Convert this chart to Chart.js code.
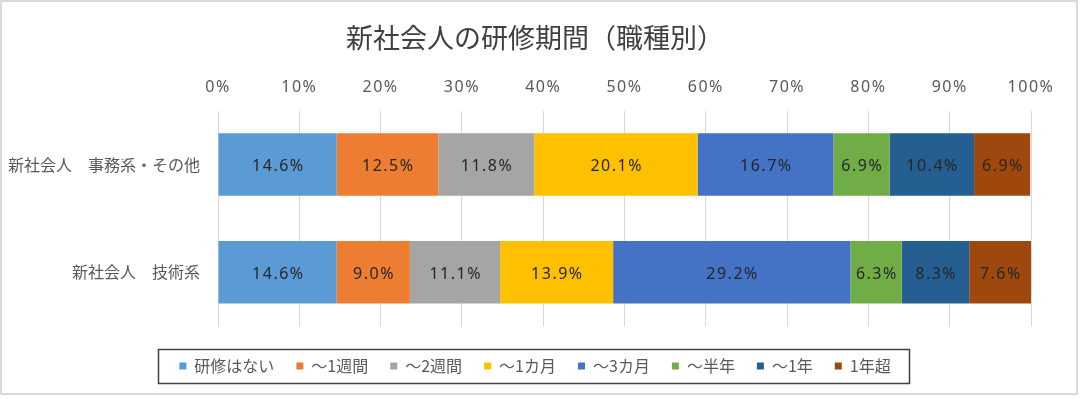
<!DOCTYPE html>
<html><head><meta charset="utf-8">
<script src="https://cdn.jsdelivr.net/npm/chart.js@4.4.1/dist/chart.umd.min.js"></script>
<style>html,body{margin:0;padding:0;background:#fff;overflow:hidden;}</style>
</head><body>
<canvas id="c" width="1081" height="399"></canvas>
<script>
// ---- data ----
const titleText = '新社会人の研修期間（職種別）';
const categories = ['新社会人　事務系・その他', '新社会人　技術系'];
const seriesNames = ['研修はない', '～1週間', '～2週間', '～1カ月', '～3カ月', '～半年', '～1年', '1年超'];
const sNone   = [14.6, 14.6];
const s1Week  = [12.5, 9.0];
const s2Week  = [11.8, 11.1];
const s1Month = [20.1, 13.9];
const s3Month = [16.7, 29.2];
const sHalf   = [6.9, 6.3];
const s1Year  = [10.4, 8.3];
const sOver1  = [6.9, 7.6];
const tickLabels = ['0%', '10%', '20%', '30%', '40%', '50%', '60%', '70%', '80%', '90%', '100%'];
const seriesColors = ['#5B9BD5', '#ED7D31', '#A5A5A5', '#FFC000', '#4472C4', '#70AD47', '#255E91', '#9E480E'];
const seriesValues = [sNone, s1Week, s2Week, s1Month, s3Month, sHalf, s1Year, sOver1];

const datasets = seriesNames.map((name, i) => ({
  label: name,
  data: seriesValues[i],
  backgroundColor: seriesColors[i],
  borderWidth: 0,
  barPercentage: 0.58,
  categoryPercentage: 1.0,
  xAxisID: 'x',
  yAxisID: 'y'
}));

const helperPlugin = {
  id: 'helper',
  beforeDraw(chart) {
    const ctx = chart.ctx;
    ctx.save();
    ctx.fillStyle = '#ffffff';
    ctx.fillRect(0, 0, chart.width, chart.height);
    ctx.restore();
  },
  afterDatasetsDraw(chart) {
    const ctx = chart.ctx;
    ctx.save();
    ctx.font = '16px "Noto Sans"';
    ctx.fillStyle = '#262626';
    ctx.textAlign = 'center';
    ctx.textBaseline = 'middle';
    try { ctx.letterSpacing = '1.5px'; } catch (e) {}
    chart.data.datasets.forEach((ds, i) => {
      const meta = chart.getDatasetMeta(i);
      meta.data.forEach((bar, j) => {
        const v = ds.data[j];
        const p = bar.getProps(['x', 'y', 'base'], true);
        ctx.fillText(v.toFixed(1) + '%', (p.x + p.base) / 2 + 0.75, p.y + 2);
      });
    });
    ctx.restore();
    try { ctx.letterSpacing = '1.5px'; } catch (e) {}
  },
  afterDraw(chart) {
    const ctx = chart.ctx;
    try { ctx.letterSpacing = '0px'; } catch (e) {}
    const hb = chart.legend && chart.legend.legendHitBoxes;
    ctx.save();
    if (hb && hb.length) {
      let minL = Infinity, maxR = -Infinity, cy = hb[0].top + hb[0].height / 2;
      hb.forEach(h => { minL = Math.min(minL, h.left); maxR = Math.max(maxR, h.left + h.width); });
      ctx.strokeStyle = '#404040';
      ctx.lineWidth = 1.5;
      ctx.strokeRect(Math.round(minL - 21) + 0.5, Math.round(cy - 17) + 0.5, Math.round(maxR - minL + 40), 34);
    }
    ctx.strokeStyle = '#D9D9D9';
    ctx.lineWidth = 2;
    ctx.strokeRect(1, 1, 1076, 393);
    ctx.restore();
  }
};

new Chart(document.getElementById('c'), {
  type: 'bar',
  data: { labels: categories, datasets },
  plugins: [helperPlugin],
  options: {
    indexAxis: 'y',
    responsive: false,
    animation: false,
    devicePixelRatio: 1,
    layout: { padding: { left: 6, right: 17, top: 0, bottom: 15 } },
    plugins: {
      title: {
        display: true,
        text: titleText,
        color: '#404040',
        font: { family: '"Noto Sans CJK JP"', size: 27, weight: 'normal' },
        padding: { top: 22, bottom: 0 }
      },
      legend: {
        display: true,
        position: 'bottom',
        labels: {
          boxWidth: 7,
          boxHeight: 7,
          padding: 22,
          color: '#595959',
          font: { family: '"Noto Sans CJK JP"', size: 16 }
        }
      },
      tooltip: { enabled: false }
    },
    scales: {
      y: {
        type: 'category',
        stacked: true,
        ticks: {
          padding: 18,
          color: '#595959',
          font: { family: '"Noto Sans CJK JP"', size: 16 }
        },
        grid: { display: false, drawTicks: false },
        border: { display: false },
        afterFit: s => { s.width = 212; }
      },
      x: {
        type: 'linear',
        position: 'top',
        stacked: true,
        min: 0,
        max: 100,
        ticks: {
          stepSize: 10,
          padding: 14,
          z: 1,
          color: '#595959',
          font: { family: '"Noto Sans"', size: 16 },
          callback: (v, i) => tickLabels[i]
        },
        grid: { color: '#D9D9D9', lineWidth: 1, drawTicks: false },
        border: { display: false },
        afterFit: s => { s.height = 110.6 - 54.4; }
      },
      gap: {
        type: 'linear',
        axis: 'x',
        position: 'bottom',
        display: true,
        ticks: { display: false },
        grid: { display: false, drawTicks: false },
        border: { display: false },
        afterFit: s => { s.height = 10; }
      },
      gapR: {
        type: 'linear',
        axis: 'y',
        position: 'right',
        display: true,
        ticks: { display: false },
        grid: { display: false, drawTicks: false },
        border: { display: false },
        afterFit: s => { s.width = 33; }
      }
    }
  }
});
</script>
</body></html>
